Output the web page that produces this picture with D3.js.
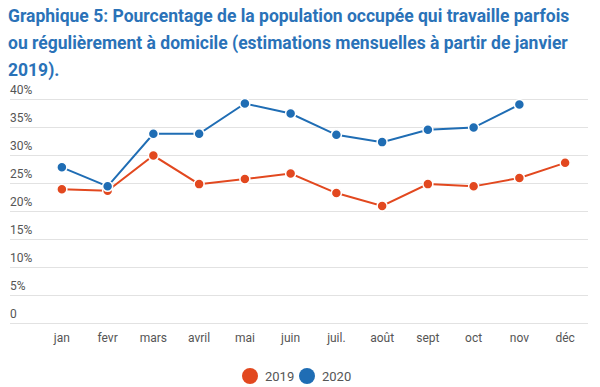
<!DOCTYPE html>
<html>
<head>
<meta charset="utf-8">
<script src="https://cdn.jsdelivr.net/npm/d3@7"></script>
<style>
  body { margin: 0; background: #fff; font-family: Roboto, sans-serif; }
  .title { fill: #2a72b8; font-weight: bold; font-size: 17.5px; }
  .tick-label { fill: #555; font-size: 12px; }
  .grid line { stroke: #e2e2e2; stroke-width: 1; }
</style>
</head>
<body>
<div id="chart"></div>
<script>
var months = ["jan", "fevr", "mars", "avril", "mai", "juin", "juil.", "août", "sept", "oct", "nov", "déc"];
var values2019 = [23.9, 23.6, 29.9, 24.8, 25.7, 26.7, 23.2, 20.9, 24.8, 24.4, 25.9, 28.6];
var values2020 = [27.8, 24.4, 33.8, 33.8, 39.2, 37.4, 33.6, 32.3, 34.5, 34.9, 39.0, null];
var yTicks = [0, 5, 10, 15, 20, 25, 30, 35, 40];
var seriesNames = ["2019", "2020"];

var width = 600;
var height = 387;
var colors = ["#e2481f", "#1f6db4"];

var svg = d3.select("#chart").append("svg")
  .attr("width", width)
  .attr("height", height);

/* Title */
var titleLines = [
  "Graphique 5: Pourcentage de la population occupée qui travaille parfois",
  "ou régulièrement à domicile (estimations mensuelles à partir de janvier",
  "2019)."
];
svg.append("g").selectAll("text")
  .data(titleLines).enter()
  .append("text")
  .attr("class", "title")
  .attr("x", 8)
  .attr("y", (d, i) => 22 + i * 27)
  .text(d => d);

/* Scales */
var xScale = d3.scaleBand()
  .domain(months)
  .range([39, 588]);

var yScale = d3.scaleLinear()
  .domain([0, 40])
  .range([323, 99]);

/* Grid + y labels */
var grid = svg.append("g").attr("class", "grid");
grid.selectAll("line")
  .data(yTicks).enter()
  .append("line")
  .attr("x1", 10)
  .attr("x2", 588)
  .attr("y1", d => Math.round(yScale(d)) + 0.5)
  .attr("y2", d => Math.round(yScale(d)) + 0.5);

grid.selectAll("text")
  .data(yTicks).enter()
  .append("text")
  .attr("class", "tick-label")
  .attr("x", 10)
  .attr("y", d => yScale(d) - 5)
  .text(d => d === 0 ? "0" : d + "%");

/* x labels */
svg.append("g").selectAll("text")
  .data(months).enter()
  .append("text")
  .attr("class", "tick-label")
  .attr("x", d => xScale(d) + xScale.bandwidth() / 2)
  .attr("y", 342)
  .attr("text-anchor", "middle")
  .text(d => d);

/* Lines */
var data = [
  { name: "2019", values: values2019 },
  { name: "2020", values: values2020 }
];

var line = d3.line()
  .defined(d => d != null)
  .x((d, i) => xScale(months[i]) + xScale.bandwidth() / 2)
  .y(d => yScale(d));

var lines = svg.append("g");

lines.selectAll(".line")
  .data(data).enter()
  .append("path")
  .attr("class", "line")
  .attr("fill", "none")
  .attr("stroke", (d, i) => colors[i])
  .attr("stroke-width", 2)
  .attr("d", d => line(d.values));

lines.selectAll(".dots")
  .data(data).enter()
  .append("g")
  .attr("fill", (d, i) => colors[i])
  .selectAll("circle")
  .data(d => d.values.map((v, i) => ({ v: v, m: months[i] })).filter(p => p.v != null))
  .enter()
  .append("circle")
  .attr("cx", d => xScale(d.m) + xScale.bandwidth() / 2)
  .attr("cy", d => yScale(d.v))
  .attr("r", 5)
  .attr("stroke", "#fff")
  .attr("stroke-width", 1.5);

/* Legend */
var legend = svg.selectAll(".legend")
  .data(seriesNames).enter()
  .append("g")
  .attr("class", "legend")
  .attr("transform", (d, i) => "translate(" + (250 + i * 57) + ",376)");

legend.append("circle")
  .attr("r", 8)
  .attr("fill", (d, i) => colors[i]);

legend.append("text")
  .attr("class", "tick-label")
  .attr("x", 15)
  .attr("y", 4.5)
  .style("font-size", "13px")
  .text(d => d);
</script>
</body>
</html>
